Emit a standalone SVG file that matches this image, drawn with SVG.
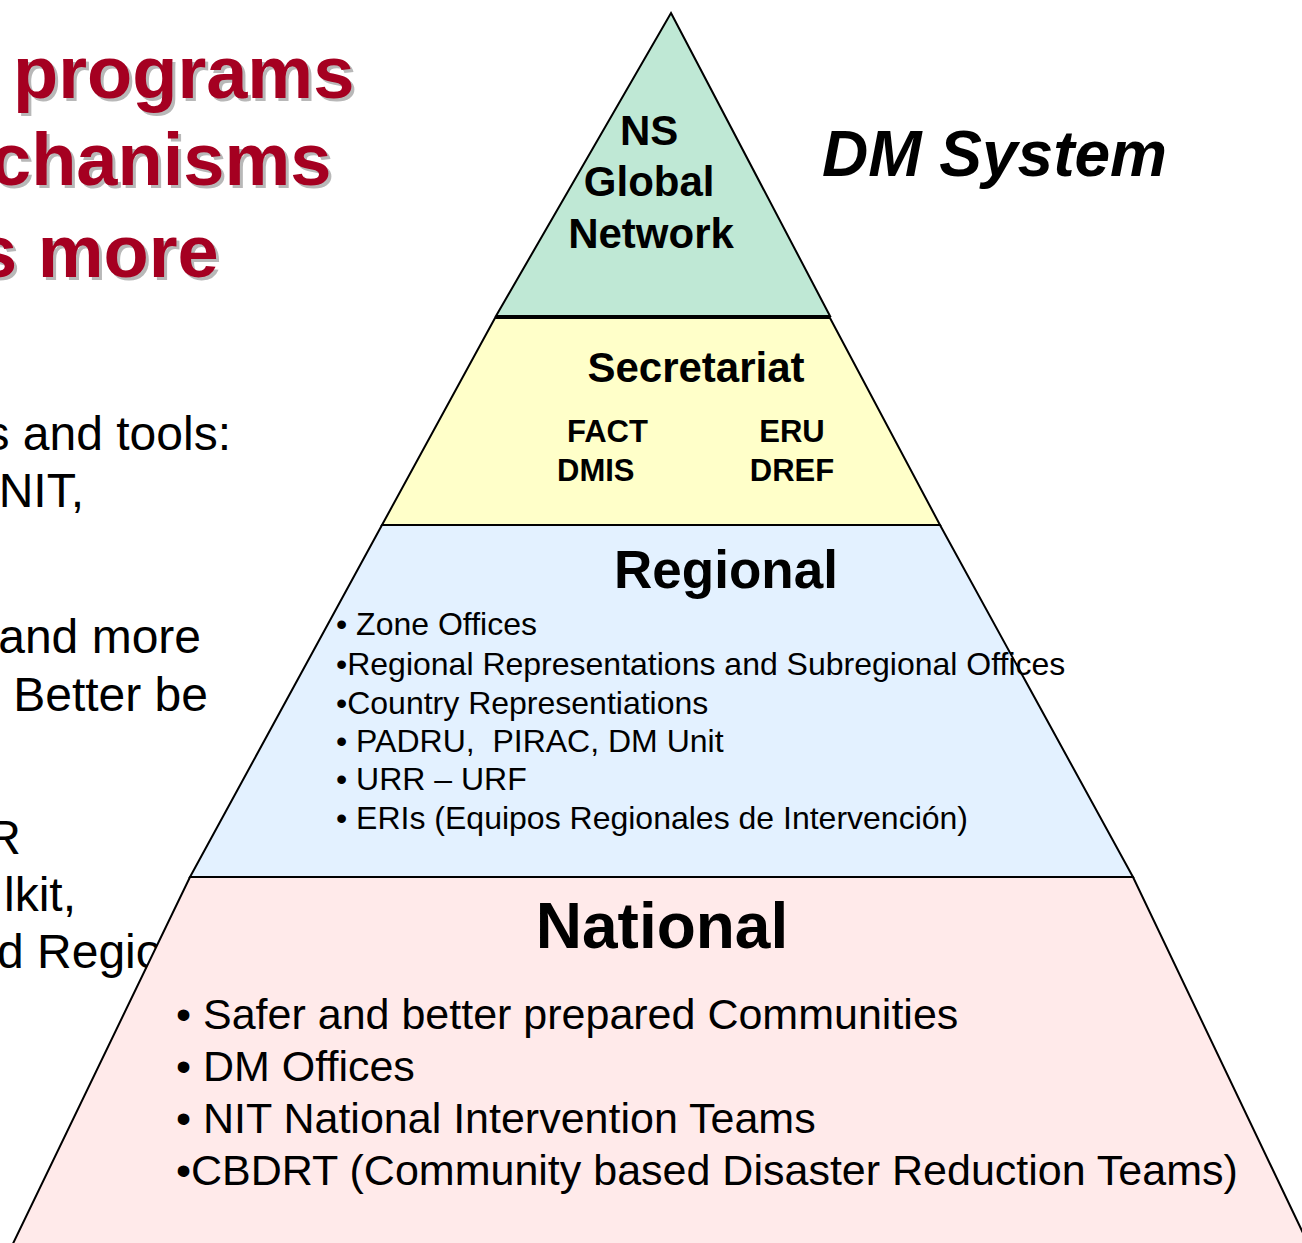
<svg xmlns="http://www.w3.org/2000/svg" width="1302" height="1243" viewBox="0 0 1302 1243">
<style>
.title{font-family:"Liberation Sans",Arial,sans-serif;font-weight:bold;font-size:74px;fill:#a50021}
.shadow{font-family:"Liberation Sans",Arial,sans-serif;font-weight:bold;font-size:74px;fill:#b8b8b8}
.body{font-family:"Liberation Sans",Arial,sans-serif;font-size:48px;fill:#000}
.band{stroke:#000;stroke-width:2;stroke-linejoin:miter}
.b{font-family:"Liberation Sans",Arial,sans-serif;font-weight:bold;fill:#000}
.r{font-family:"Liberation Sans",Arial,sans-serif;fill:#000}
</style>
<rect width="1302" height="1243" fill="#fff"/>
<g id="title">
<text class="shadow" x="16" y="101">programs</text>
<text class="title" x="13" y="98">programs</text>
<text class="shadow" x="-7" y="188">chanisms</text>
<text class="title" x="-10" y="185">chanisms</text>
<text class="shadow" x="-21" y="280">s more</text>
<text class="title" x="-24" y="277">s more</text>
</g>
<g id="left-text">
<text class="body" x="231" y="450" text-anchor="end">s and tools:</text>
<text class="body" x="84" y="507" text-anchor="end">NIT,</text>
<text class="body" x="201" y="653" text-anchor="end">and more</text>
<text class="body" x="208" y="711" text-anchor="end">Better be</text>
<text class="body" x="21" y="854" text-anchor="end">R</text>
<text class="body" x="76" y="911" text-anchor="end">lkit,</text>
<text class="body" x="-3" y="968">d Regio</text>
</g>
<g id="dm-system">
<text class="b" x="822" y="176" font-size="64" font-style="italic">DM System</text>
</g>
<g id="national">
<polygon class="band" fill="#ffeaea" points="190,877 1133,877 1314,1256 7,1256"/>
<text class="b" x="662" y="948" font-size="64" text-anchor="middle">National</text>
<text class="r" font-size="43">
<tspan x="176" y="1029">• Safer and better prepared Communities</tspan>
<tspan x="176" y="1081">• DM Offices</tspan>
<tspan x="176" y="1133">• NIT National Intervention Teams</tspan>
<tspan x="176" y="1185">•CBDRT (Community based Disaster Reduction Teams)</tspan>
</text>
</g>
<g id="regional">
<polygon class="band" fill="#e3f1ff" points="382,525 940,525 1133,877 190,877"/>
<text class="b" x="726" y="588" font-size="53" text-anchor="middle">Regional</text>
<text class="r" font-size="32" xml:space="preserve"><tspan x="336" y="635">• Zone Offices</tspan><tspan x="336" y="675">•Regional Representations and Subregional Offices</tspan><tspan x="336" y="714">•Country Representiations</tspan><tspan x="336" y="752">• PADRU,  PIRAC, DM Unit</tspan><tspan x="336" y="790">• URR – URF</tspan><tspan x="336" y="829">• ERIs (Equipos Regionales de Intervención)</tspan></text>
</g>
<g id="secretariat">
<polygon class="band" fill="#ffffc9" points="495,318 830,318 940,525 382,525"/>
<text class="b" x="696" y="382" font-size="42" text-anchor="middle">Secretariat</text>
<text class="b" x="567" y="442" font-size="31">FACT</text>
<text class="b" x="557" y="481" font-size="31">DMIS</text>
<text class="b" x="792" y="442" font-size="31" text-anchor="middle">ERU</text>
<text class="b" x="792" y="481" font-size="31" text-anchor="middle">DREF</text>
</g>
<g id="ns-global-network">
<polygon class="band" fill="#bfe8d5" points="671,13 830,316 496,316"/>
<text class="b" font-size="42" text-anchor="middle">
<tspan x="655" y="145">NS</tspan>
<tspan x="655" y="196">Global</tspan>
<tspan x="651" y="248">Network</tspan>
</text>
</g>
<g id="connectors"/>
</svg>
